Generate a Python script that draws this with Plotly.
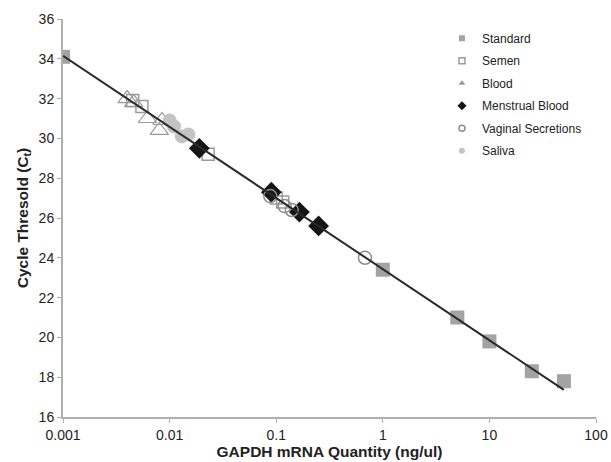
import plotly.graph_objects as go

# ---- data ----
std_x = [0.001, 1, 5, 10, 25, 50]
std_y = [34.1, 23.4, 21.0, 19.8, 18.3, 17.8]

semen_x = [0.0045, 0.0055, 0.023, 0.10, 0.115]
semen_y = [31.9, 31.6, 29.2, 27.0, 26.8]

blood_x = [0.0040, 0.0046, 0.0062, 0.0080, 0.0085]
blood_y = [32.0, 31.8, 31.0, 30.4, 30.9]

mens_x = [0.019, 0.09, 0.165, 0.25]
mens_y = [29.5, 27.3, 26.3, 25.6]

vag_x = [0.088, 0.12, 0.14, 0.68]
vag_y = [27.1, 26.6, 26.4, 24.0]

sal_x = [0.010, 0.011, 0.013, 0.015]
sal_y = [30.9, 30.6, 30.1, 30.2]

fit_x = [0.001, 50]
fit_y = [34.15, 17.36]

x_ticks = [0.001, 0.01, 0.1, 1, 10, 100]
x_ticktext = ["0.001", "0.01", "0.1", "1", "10", "100"]

FONT = "Liberation Sans, Arial, sans-serif"

fig = go.Figure()

series = [
    ("Standard", std_x, std_y, dict(symbol="square", size=14, color="#a3a3a3", line=dict(width=0))),
    ("Semen", semen_x, semen_y, dict(symbol="square-open", size=12, color="#9a9a9a", line=dict(width=1.5))),
    ("Blood", blood_x, blood_y, dict(symbol="triangle-up-open", size=16, color="#9a9a9a", line=dict(width=1.2))),
    ("Menstrual Blood", mens_x, mens_y, dict(symbol="diamond", size=16, color="#151515", line=dict(width=0))),
    ("Vaginal Secretions", vag_x, vag_y, dict(symbol="circle-open", size=13, color="#8c8c8c", line=dict(width=1.5))),
    ("Saliva", sal_x, sal_y, dict(symbol="circle", size=14, color="#c4c4c4", line=dict(width=0))),
]

legend_markers = {
    "Standard": dict(symbol="square", size=6, color="#a3a3a3"),
    "Semen": dict(symbol="square-open", size=6, color="#9a9a9a", line=dict(width=1.5)),
    "Blood": dict(symbol="triangle-up", size=6, color="#9a9a9a"),
    "Menstrual Blood": dict(symbol="diamond", size=7, color="#151515"),
    "Vaginal Secretions": dict(symbol="circle-open", size=6, color="#8c8c8c", line=dict(width=1.5)),
    "Saliva": dict(symbol="circle", size=6, color="#c4c4c4"),
}

for name, xs, ys, mk in series:
    fig.add_trace(go.Scatter(x=xs, y=ys, mode="markers", marker=mk, name=name,
                             showlegend=False, hoverinfo="x+y+name"))

fig.add_trace(go.Scatter(x=fit_x, y=fit_y, mode="lines",
                         line=dict(color="#2a2a2a", width=2), showlegend=False,
                         hoverinfo="skip"))

for i, (name, xs, ys, mk) in enumerate(series):
    fig.add_trace(go.Scatter(x=[None], y=[None], mode="markers", marker=legend_markers[name],
                             name=name, legendgroup=f"g{i}", showlegend=True))

fig.update_layout(
    width=611, height=462,
    margin=dict(l=63, r=15, t=19, b=45),
    paper_bgcolor="white", plot_bgcolor="white",
    font=dict(family=FONT, size=14, color="#222222"),
    showlegend=True,
    legend=dict(x=0.711, y=0.988, xanchor="left", yanchor="top",
                font=dict(family=FONT, size=12, color="#222222"),
                bgcolor="rgba(0,0,0,0)", tracegroupgap=3.5, itemwidth=30),
    xaxis=dict(type="log", range=[-3, 2], tickvals=x_ticks, ticktext=x_ticktext,
               showgrid=False, zeroline=False, showline=True, linecolor="#b0b0b0", linewidth=2,
               ticks="outside", ticklen=4, tickcolor="#b0b0b0", tickwidth=1,
               tickfont=dict(size=14), automargin=False,
               title=dict(text="<b>GAPDH mRNA Quantity (ng/ul)</b>", font=dict(size=15.5), standoff=4)),
    yaxis=dict(range=[16, 36], dtick=2, tick0=16,
               showgrid=False, zeroline=False, showline=True, linecolor="#b0b0b0", linewidth=2,
               ticks="outside", ticklen=4, tickcolor="#b0b0b0", tickwidth=1,
               tickfont=dict(size=14), automargin=False,
               title=dict(text="<b>Cycle Thresold (C<sub>t</sub>)</b>", font=dict(size=15.5), standoff=6)),
)

fig.write_html("out.html")
